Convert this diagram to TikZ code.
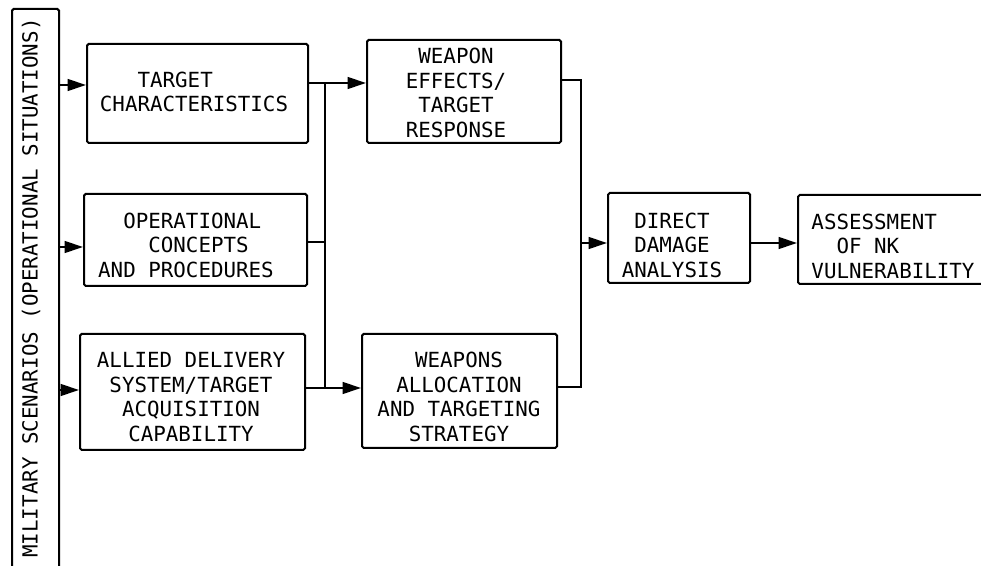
\documentclass[tikz,border=0pt]{standalone}
\usepackage{fontspec}
\newfontfamily\typew{DejaVu Sans Mono}
\usetikzlibrary{arrows.meta,fit}
\tikzset{
  box/.style={draw, line width=1.2pt, rounded corners=1pt, inner sep=0pt},
  txt/.style={inner sep=0pt, font=\typew\fontsize{12.5}{14.7}\selectfont},
  conn/.style={line width=1.4pt},
  arr/.style={line width=1.4pt, -{Triangle[length=11pt,width=7pt]}},
}
\begin{document}
\begin{tikzpicture}[x=0.6pt, y=-0.6pt]
\useasboundingbox (0,0) rectangle (981,566);
\clip (0,0) rectangle (981,566);
% boxes
\node[box, fit={(12,9) (59,620)}] (b0) {};
\node[box, fit={(87,44) (308,143)}] (b1) {};
\node[box, fit={(84,194) (307,286)}] (b2) {};
\node[box, fit={(80,334) (305,450)}] (b3) {};
\node[box, fit={(367,40) (561,143)}] (b4) {};
\node[box, fit={(362,334) (557,448)}] (b5) {};
\node[box, fit={(608,193) (750,283)}] (b6) {};
\node[box, fit={(798,195) (1010,284)}] (b7) {};
% texts
\node[txt, rotate=90] (t0) at (31,288) {MILITARY SCENARIOS (OPERATIONAL SITUATIONS)};
\node[txt, align=left] (t1) at (194,92) {\phantom{XXX}TARGET\\CHARACTERISTICS};
\node[txt, align=left] (t2) at (186,245) {\phantom{XX}OPERATIONAL\\\phantom{XXXX}CONCEPTS\\AND PROCEDURES};
\node[txt, align=center] (t3) at (191,397) {ALLIED DELIVERY\\SYSTEM/TARGET\\ACQUISITION\\CAPABILITY};
\node[txt, align=center] (t4) at (456,93) {WEAPON\\EFFECTS/\\TARGET\\RESPONSE};
\node[txt, align=center] (t5) at (459,397) {WEAPONS\\ALLOCATION\\AND TARGETING\\STRATEGY};
\node[txt, align=center] (t6) at (672,245) {DIRECT\\DAMAGE\\ANALYSIS};
\node[txt, align=left] (t7) at (893,246) {ASSESSMENT\\\phantom{XX}OF NK\\VULNERABILITY};
% routing coordinates
\coordinate (r1) at (0,85);
\coordinate (r2) at (0,247);
\coordinate (r3) at (0,390);
\coordinate (j1) at (325,83);
\coordinate (j2) at (325,242);
\coordinate (j3) at (325,388);
\coordinate (k1) at (581,80);
\coordinate (k2) at (581,243);
\coordinate (k3) at (581,387);
% connectors
\draw[arr] (b0.east |- r1) -- (b1.west |- r1);
\draw[arr] (b0.east |- r2) -- (b2.west |- r2);
\draw[arr] (b0.east |- r3) -- (b3.west |- r3);
\draw[arr] (b1.east |- j1) -- (b4.west |- j1);
\draw[conn] (j1) -- (j3);
\draw[conn] (b2.east |- j2) -- (j2);
\draw[arr] (b3.east |- j3) -- (b5.west |- j3);
\draw[conn] (b4.east |- k1) -- (k1) -- (k3) -- (b5.east |- k3);
\draw[arr] (k2) -- (b6.west |- k2);
\draw[arr] (b6.east |- k2) -- (b7.west |- k2);
\end{tikzpicture}
\end{document}
